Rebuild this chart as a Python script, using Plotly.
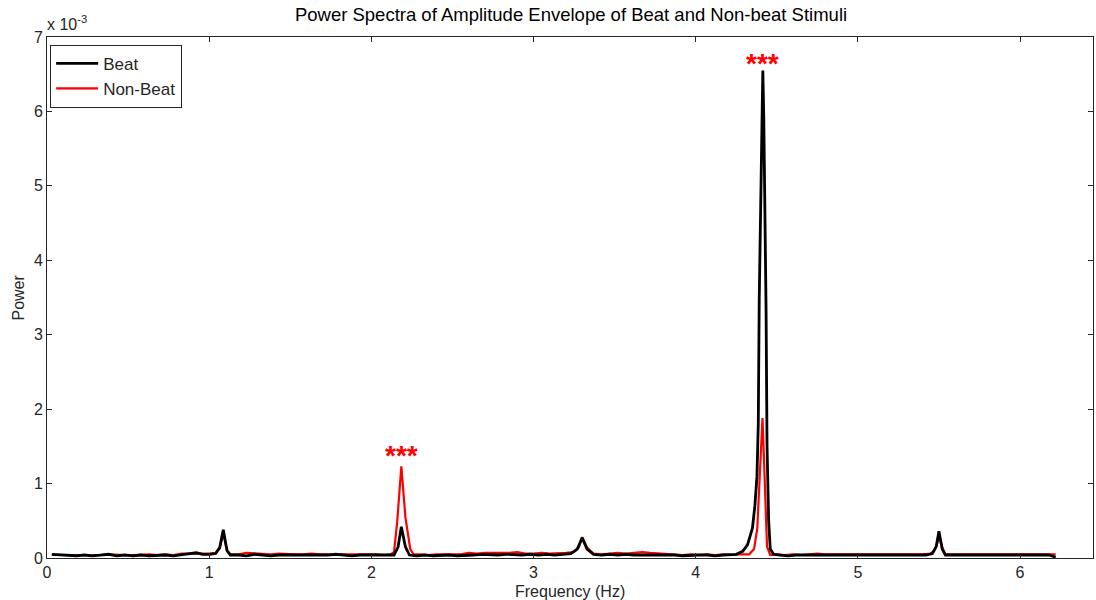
import plotly.graph_objects as go

# Frequency (Hz) and power (x 1e-3)
beat_freq = [0.03, 0.08, 0.13, 0.18, 0.23, 0.28, 0.33, 0.38, 0.43, 0.48, 0.53, 0.58, 0.63, 0.68,
             0.73, 0.78, 0.83, 0.88, 0.92, 0.96, 1.00, 1.04, 1.065, 1.087, 1.11, 1.13, 1.18, 1.23,
             1.28, 1.33, 1.38, 1.43, 1.48, 1.53, 1.58, 1.63, 1.68, 1.73, 1.78, 1.83, 1.88, 1.93,
             1.98, 2.03, 2.08, 2.14, 2.165, 2.185, 2.21, 2.235, 2.28, 2.33, 2.38, 2.43, 2.48, 2.53,
             2.58, 2.63, 2.68, 2.73, 2.78, 2.83, 2.88, 2.93, 2.98, 3.03, 3.08, 3.13, 3.18, 3.23,
             3.27, 3.30, 3.33, 3.37, 3.42, 3.47, 3.52, 3.57, 3.62, 3.67, 3.72, 3.77, 3.82, 3.87,
             3.92, 3.97, 4.02, 4.07, 4.12, 4.17, 4.21, 4.25, 4.29, 4.32, 4.35, 4.365, 4.378, 4.386,
             4.392, 4.400, 4.407, 4.414, 4.420, 4.428, 4.434, 4.440, 4.450, 4.46, 4.48, 4.52, 4.57,
             4.62, 4.67, 4.72, 4.77, 4.82, 4.87, 4.92, 4.97, 5.02, 5.07, 5.12, 5.17, 5.22, 5.27,
             5.32, 5.37, 5.42, 5.46, 5.483, 5.50, 5.52, 5.54, 5.58, 5.63, 5.68, 5.73, 5.78, 5.83,
             5.88, 5.93, 5.98, 6.03, 6.08, 6.13, 6.18, 6.22]
beat_power = [0.05, 0.04, 0.04, 0.03, 0.04, 0.03, 0.04, 0.05, 0.03, 0.04, 0.03, 0.04, 0.03, 0.04,
              0.04, 0.03, 0.04, 0.06, 0.07, 0.05, 0.05, 0.06, 0.14, 0.38, 0.10, 0.04, 0.04, 0.03,
              0.05, 0.04, 0.03, 0.04, 0.04, 0.03, 0.04, 0.04, 0.03, 0.04, 0.05, 0.04, 0.03, 0.04,
              0.04, 0.04, 0.03, 0.04, 0.15, 0.42, 0.15, 0.04, 0.03, 0.04, 0.03, 0.04, 0.04, 0.03,
              0.04, 0.04, 0.05, 0.04, 0.04, 0.05, 0.04, 0.04, 0.05, 0.04, 0.05, 0.04, 0.05, 0.06,
              0.12, 0.27, 0.12, 0.05, 0.04, 0.05, 0.04, 0.05, 0.04, 0.04, 0.05, 0.04, 0.04, 0.04,
              0.03, 0.04, 0.04, 0.04, 0.03, 0.04, 0.04, 0.05, 0.09, 0.18, 0.40, 0.70, 1.10, 1.80,
              3.50, 4.80, 5.92, 6.55, 5.90, 4.60, 3.35, 1.50, 0.50, 0.12, 0.05, 0.04, 0.03,
              0.04, 0.04, 0.03, 0.04, 0.03, 0.04, 0.04, 0.03, 0.04, 0.04, 0.03, 0.04, 0.04, 0.03,
              0.04, 0.04, 0.04, 0.06, 0.15, 0.36, 0.12, 0.04, 0.04, 0.03, 0.04, 0.04, 0.03, 0.04,
              0.04, 0.03, 0.04, 0.03, 0.04, 0.03, 0.04, 0.01]

nonbeat_freq = [0.03, 0.08, 0.13, 0.18, 0.23, 0.28, 0.33, 0.38, 0.43, 0.48, 0.53, 0.58, 0.63, 0.68,
                0.73, 0.78, 0.83, 0.88, 0.92, 0.96, 1.00, 1.04, 1.065, 1.087, 1.11, 1.13, 1.18, 1.23,
                1.28, 1.33, 1.38, 1.43, 1.48, 1.53, 1.58, 1.63, 1.68, 1.73, 1.78, 1.83, 1.88, 1.93,
                1.98, 2.03, 2.08, 2.12, 2.14, 2.16, 2.185, 2.21, 2.24, 2.26, 2.30, 2.35, 2.40, 2.45,
                2.50, 2.55, 2.60, 2.65, 2.70, 2.75, 2.80, 2.85, 2.90, 2.95, 3.00, 3.05, 3.10, 3.15,
                3.20, 3.25, 3.28, 3.30, 3.33, 3.37, 3.42, 3.47, 3.52, 3.57, 3.62, 3.67, 3.72, 3.77,
                3.82, 3.87, 3.92, 3.97, 4.02, 4.07, 4.12, 4.17, 4.22, 4.27, 4.33, 4.36, 4.38, 4.395,
                4.405, 4.412, 4.42, 4.43, 4.44, 4.46, 4.50, 4.55, 4.60, 4.65, 4.70, 4.75, 4.80, 4.85,
                4.90, 4.95, 5.00, 5.05, 5.10, 5.15, 5.20, 5.25, 5.30, 5.35, 5.40, 5.45, 5.47, 5.49,
                5.50, 5.52, 5.54, 5.58, 5.63, 5.68, 5.73, 5.78, 5.83, 5.88, 5.93, 5.98, 6.03, 6.08,
                6.13, 6.18, 6.22]
nonbeat_power = [0.04, 0.04, 0.03, 0.04, 0.04, 0.04, 0.04, 0.05, 0.04, 0.04, 0.04, 0.05, 0.05, 0.04,
                 0.05, 0.04, 0.06, 0.06, 0.06, 0.05, 0.06, 0.07, 0.13, 0.33, 0.10, 0.05, 0.05, 0.07,
                 0.06, 0.05, 0.05, 0.06, 0.05, 0.05, 0.05, 0.06, 0.05, 0.05, 0.06, 0.05, 0.06, 0.05,
                 0.05, 0.05, 0.04, 0.05, 0.08, 0.50, 1.23, 0.55, 0.12, 0.05, 0.05, 0.04, 0.05, 0.05,
                 0.04, 0.05, 0.07, 0.06, 0.07, 0.07, 0.06, 0.07, 0.08, 0.06, 0.06, 0.07, 0.06, 0.06,
                 0.07, 0.08, 0.15, 0.28, 0.14, 0.06, 0.05, 0.06, 0.07, 0.06, 0.07, 0.08, 0.07, 0.06,
                 0.05, 0.05, 0.04, 0.05, 0.04, 0.05, 0.04, 0.05, 0.04, 0.05, 0.05, 0.12, 0.40, 1.10,
                 1.50, 1.88, 1.40, 0.60, 0.15, 0.04, 0.05, 0.04, 0.05, 0.04, 0.05, 0.06, 0.05, 0.05,
                 0.05, 0.04, 0.05, 0.05, 0.04, 0.05, 0.05, 0.04, 0.05, 0.05, 0.05, 0.06, 0.10, 0.20,
                 0.30, 0.15, 0.05, 0.05, 0.05, 0.06, 0.05, 0.05, 0.06, 0.05, 0.05, 0.06, 0.05, 0.06,
                 0.05, 0.06, 0.05]

star_freq = [2.185, 4.414]
star_power = [1.38, 6.65]

FONT = "Liberation Sans, Arial, sans-serif"
TXT = "#262626"
AX = "#262626"

fig = go.Figure()
fig.add_trace(go.Scatter(x=nonbeat_freq, y=nonbeat_power, mode="lines", name="Non-Beat",
                         line=dict(color="#ff0000", width=2.2), legendrank=2))
fig.add_trace(go.Scatter(x=beat_freq, y=beat_power, mode="lines", name="Beat",
                         line=dict(color="#000000", width=2.8), legendrank=1))

for sx, sy in zip(star_freq, star_power):
    fig.add_annotation(x=sx, y=sy, text="<b>***</b>", showarrow=False,
                       font=dict(family=FONT, size=28, color="#ff0000"), yanchor="middle")

# exponent label
fig.add_annotation(xref="paper", yref="paper", x=0.0, y=1.0, xanchor="left", yanchor="bottom",
                   text="x 10<sup>-3</sup>", showarrow=False, yshift=2, xshift=-2,
                   font=dict(family=FONT, size=16, color=TXT))
# axis titles
fig.add_annotation(xref="paper", yref="paper", x=0.5, y=0, xanchor="center", yanchor="middle",
                   yshift=-33, text="Frequency (Hz)", showarrow=False,
                   font=dict(family=FONT, size=16, color=TXT))
fig.add_annotation(xref="paper", yref="paper", x=0, y=0.5, xanchor="center", yanchor="middle",
                   xshift=-29, text="Power", textangle=-90, showarrow=False,
                   font=dict(family=FONT, size=16, color=TXT))

axis_common = dict(showline=True, linecolor=AX, linewidth=1, mirror="ticks", ticks="inside",
                   ticklen=5, tickcolor=AX, showgrid=False, zeroline=False, automargin=False,
                   tickfont=dict(family=FONT, size=16, color=TXT))

fig.update_layout(
    width=1096, height=600,
    margin=dict(l=47, r=3, t=37, b=42),
    paper_bgcolor="white", plot_bgcolor="white",
    title=dict(text="Power Spectra of Amplitude Envelope of Beat and Non-beat Stimuli",
               x=0.521, xanchor="center", y=0.975, yanchor="middle", automargin=False,
               font=dict(family=FONT, size=18.5, color="#000000")),
    xaxis=dict(range=[0, 6.45], tickvals=[0, 1, 2, 3, 4, 5, 6], **axis_common),
    yaxis=dict(range=[0, 7], tickvals=[0, 1, 2, 3, 4, 5, 6, 7], **axis_common),
    legend=dict(x=0.003, y=0.985, xanchor="left", yanchor="top", bgcolor="white",
                bordercolor=AX, borderwidth=1, font=dict(family=FONT, size=17, color=TXT),
                tracegroupgap=0, itemwidth=42),
    showlegend=True,
)

fig.write_html("out.html", config={"displayModeBar": False},
               post_script="document.body.style.margin='0px';")
